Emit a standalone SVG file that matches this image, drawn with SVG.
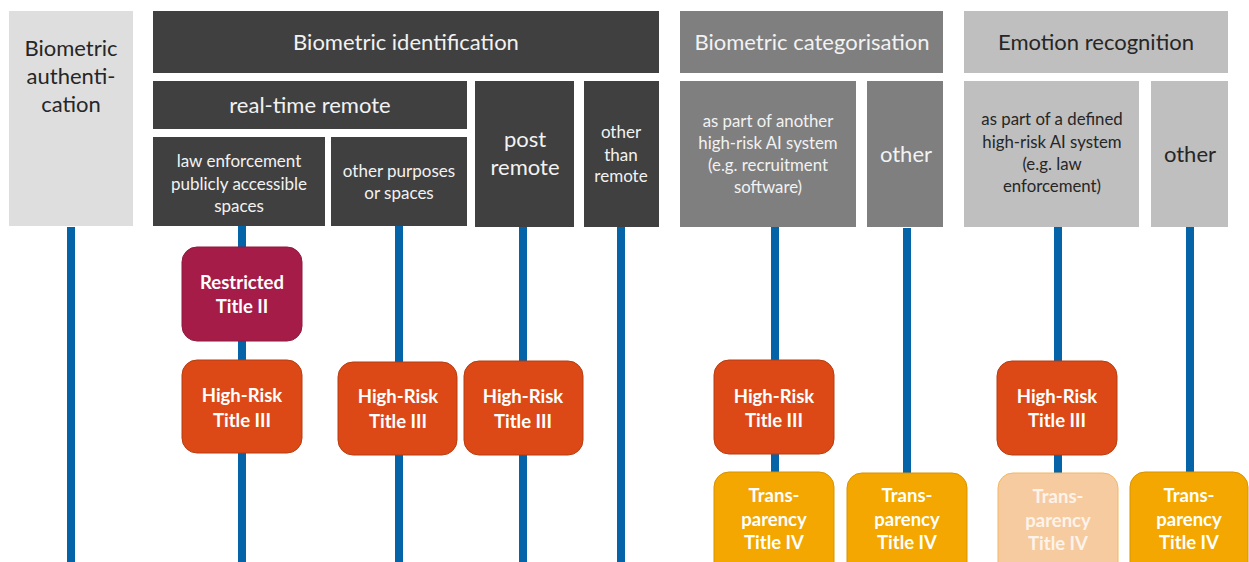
<svg xmlns="http://www.w3.org/2000/svg" width="1249" height="562" viewBox="0 0 1249 562">
  <style>
    text { font-family: Lato, "Noto Sans", "DejaVu Sans", sans-serif; text-anchor: middle; }
    .dark { fill: #404040; }
    .mid { fill: #7f7f7f; }
    .light { fill: #bfbfbf; }
    .pale { fill: #dedede; }
    .tw { fill: #f2f2f2; }
    .tk { fill: #262626; }
    .big { font-size: 22px; }
    .med { font-size: 17px; }
    .sm { font-size: 16.8px; }
    .btn { font-size: 18.5px; font-weight: bold; fill: #ffffff; }
    .restricted { fill: #a51c48; stroke: #8e1a3e; stroke-width: 1; }
    .highrisk { fill: #dd4916; stroke: #b53d12; stroke-width: 1; }
    .transp { fill: #f4a700; stroke: #d79300; stroke-width: 1; }
    .transp-faded { fill: #f7cba0; stroke: #f3b766; stroke-width: 1; }
    .faded-text { fill: #fdf3ea; }
    .conn { stroke: #0563a8; stroke-width: 8; fill: none; }
  </style>

  <rect width="1249" height="562" fill="#ffffff"/>

  <!-- vertical connectors running down from each category -->
  <g id="connectors">
    <line class="conn" x1="71" y1="227" x2="71" y2="562"/>
    <line class="conn" x1="242" y1="226" x2="242" y2="562"/>
    <line class="conn" x1="399" y1="226" x2="399" y2="562"/>
    <line class="conn" x1="523" y1="227" x2="523" y2="562"/>
    <line class="conn" x1="621" y1="227" x2="621" y2="562"/>
    <line class="conn" x1="775" y1="227" x2="775" y2="562"/>
    <line class="conn" x1="907" y1="228" x2="907" y2="562"/>
    <line class="conn" x1="1058" y1="227" x2="1058" y2="562"/>
    <line class="conn" x1="1190" y1="227" x2="1190" y2="562"/>
  </g>

  <!-- header categories -->
  <g id="biometric-authentication">
    <rect class="pale" x="9" y="11" width="124" height="215"/>
    <text class="tk big" x="71" y="56">Biometric</text>
    <text class="tk big" x="71" y="84">authenti-</text>
    <text class="tk big" x="71" y="112">cation</text>
  </g>

  <g id="biometric-identification">
    <rect class="dark" x="153" y="11" width="506" height="62"/>
    <text class="tw big" x="406" y="50">Biometric identification</text>
  </g>

  <g id="real-time-remote">
    <rect class="dark" x="153" y="81" width="314" height="48"/>
    <text class="tw big" x="310" y="113">real-time remote</text>
  </g>

  <g id="law-enforcement">
    <rect class="dark" x="153" y="137" width="172" height="89"/>
    <text class="tw med" x="239" y="167">law enforcement</text>
    <text class="tw med" x="239" y="190">publicly accessible</text>
    <text class="tw med" x="239" y="212">spaces</text>
  </g>

  <g id="other-purposes">
    <rect class="dark" x="331" y="137" width="136" height="89"/>
    <text class="tw med" x="399" y="177">other purposes</text>
    <text class="tw med" x="399" y="199">or spaces</text>
  </g>

  <g id="post-remote">
    <rect class="dark" x="475" y="81" width="99" height="146"/>
    <text class="tw big" x="525" y="147">post</text>
    <text class="tw big" x="525" y="175">remote</text>
  </g>

  <g id="other-than-remote">
    <rect class="dark" x="584" y="81" width="75" height="146"/>
    <text class="tw med" x="621" y="138">other</text>
    <text class="tw med" x="621" y="161">than</text>
    <text class="tw med" x="621" y="182">remote</text>
  </g>

  <g id="biometric-categorisation">
    <rect class="mid" x="680" y="11" width="263" height="62"/>
    <text class="tw big" x="812" y="50">Biometric categorisation</text>
  </g>

  <g id="categorisation-high-risk-part">
    <rect class="mid" x="680" y="81" width="176" height="146"/>
    <text class="tw sm" x="768" y="127">as part of another</text>
    <text class="tw sm" x="768" y="149">high-risk AI system</text>
    <text class="tw sm" x="768" y="171">(e.g. recruitment</text>
    <text class="tw sm" x="768" y="193">software)</text>
  </g>

  <g id="categorisation-other">
    <rect class="mid" x="867" y="81" width="76" height="146"/>
    <text class="tw big" x="906" y="162">other</text>
  </g>

  <g id="emotion-recognition">
    <rect class="light" x="964" y="11" width="264" height="62"/>
    <text class="tk big" x="1096" y="50">Emotion recognition</text>
  </g>

  <g id="emotion-high-risk-part">
    <rect class="light" x="964" y="81" width="175" height="146"/>
    <text class="tk sm" x="1052" y="125">as part of a defined</text>
    <text class="tk sm" x="1052" y="148">high-risk AI system</text>
    <text class="tk sm" x="1052" y="170">(e.g. law</text>
    <text class="tk sm" x="1052" y="192">enforcement)</text>
  </g>

  <g id="emotion-other">
    <rect class="light" x="1151" y="81" width="77" height="146"/>
    <text class="tk big" x="1190" y="162">other</text>
  </g>

  <!-- regulatory outcome boxes -->
  <g id="restricted-title-2">
    <rect class="restricted" x="182" y="247" width="120" height="94" rx="15"/>
    <text class="btn" x="242" y="289">Restricted</text>
    <text class="btn" x="242" y="313">Title II</text>
  </g>

  <g id="high-risk-1">
    <rect class="highrisk" x="182" y="360" width="120" height="93" rx="15"/>
    <text class="btn" x="242" y="402">High-Risk</text>
    <text class="btn" x="242" y="427">Title III</text>
  </g>

  <g id="high-risk-2">
    <rect class="highrisk" x="338" y="362" width="119" height="93" rx="15"/>
    <text class="btn" x="398" y="403">High-Risk</text>
    <text class="btn" x="398" y="428">Title III</text>
  </g>

  <g id="high-risk-3">
    <rect class="highrisk" x="464" y="361" width="119" height="94" rx="15"/>
    <text class="btn" x="523" y="403">High-Risk</text>
    <text class="btn" x="523" y="428">Title III</text>
  </g>

  <g id="high-risk-4">
    <rect class="highrisk" x="714" y="360" width="120" height="94" rx="15"/>
    <text class="btn" x="774" y="403">High-Risk</text>
    <text class="btn" x="774" y="427">Title III</text>
  </g>

  <g id="high-risk-5">
    <rect class="highrisk" x="997" y="361" width="120" height="94" rx="15"/>
    <text class="btn" x="1057" y="403">High-Risk</text>
    <text class="btn" x="1057" y="427">Title III</text>
  </g>

  <g id="transparency-1">
    <rect class="transp" x="714" y="472" width="120" height="110" rx="15"/>
    <text class="btn" x="774" y="502">Trans-</text>
    <text class="btn" x="774" y="526">parency</text>
    <text class="btn" x="774" y="549">Title IV</text>
  </g>

  <g id="transparency-2">
    <rect class="transp" x="847" y="473" width="120" height="110" rx="15"/>
    <text class="btn" x="907" y="502">Trans-</text>
    <text class="btn" x="907" y="526">parency</text>
    <text class="btn" x="907" y="549">Title IV</text>
  </g>

  <g id="transparency-3">
    <rect class="transp-faded" x="998" y="473" width="120" height="110" rx="15"/>
    <text class="btn faded-text" x="1058" y="503">Trans-</text>
    <text class="btn faded-text" x="1058" y="527">parency</text>
    <text class="btn faded-text" x="1058" y="550">Title IV</text>
  </g>

  <g id="transparency-4">
    <rect class="transp" x="1130" y="472" width="118" height="110" rx="15"/>
    <text class="btn" x="1189" y="502">Trans-</text>
    <text class="btn" x="1189" y="526">parency</text>
    <text class="btn" x="1189" y="549">Title IV</text>
  </g>
</svg>
